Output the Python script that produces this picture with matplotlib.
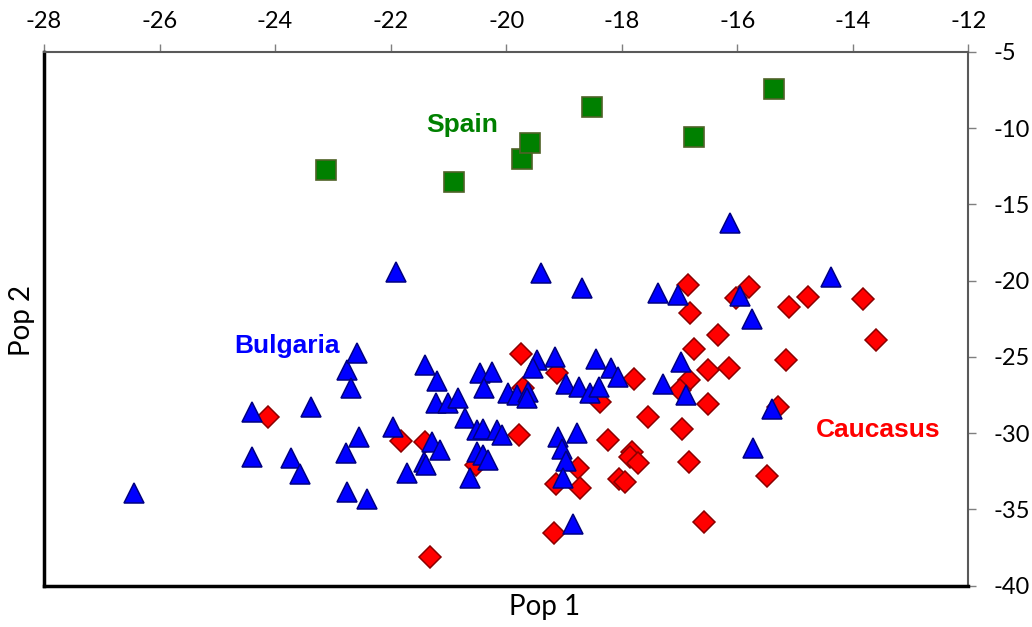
import matplotlib
matplotlib.use("Agg")
import matplotlib.pyplot as plt

plt.rcParams["axes.unicode_minus"] = False

# Spain (green squares)
spain_x = [-23.12, -20.91, -19.72, -19.58, -18.52, -16.75, -15.36]
spain_y = [-12.75, -13.52, -12.05, -11.00, -8.60, -10.57, -7.46]

# Bulgaria (blue triangles)
bulg_x = [-26.45, -24.40, -24.40, -23.73, -23.57, -23.37, -22.76, -22.40, -22.54, -22.78,
          -22.76, -22.69, -22.59, -21.91, -21.96, -21.72, -21.28, -21.15, -21.43, -21.38,
          -21.40, -21.20, -21.21, -21.00, -20.83, -20.71, -20.62, -20.51, -20.40, -20.16,
          -20.07, -20.51, -20.40, -20.31, -20.45, -20.24, -20.38, -19.97, -19.81, -19.62,
          -19.64, -19.46, -19.54, -19.39, -19.15, -18.96, -18.74, -18.55, -18.40, -18.45,
          -18.18, -18.06, -18.68, -19.10, -18.77, -19.04, -18.96, -19.01, -18.84, -17.37,
          -17.03, -17.29, -16.97, -16.88, -16.13, -15.95, -15.75, -14.38, -15.40, -15.73]
bulg_y = [-33.90, -28.60, -31.55, -31.65, -32.68, -28.29, -33.84, -34.34, -30.25, -31.32,
          -25.86, -27.06, -24.78, -19.42, -29.57, -32.61, -30.56, -31.11, -31.87, -32.09,
          -25.53, -26.58, -28.05, -28.03, -27.70, -29.01, -32.94, -29.80, -29.76, -29.80,
          -30.12, -31.24, -31.43, -31.73, -26.08, -25.97, -27.06, -27.37, -27.50, -27.28,
          -27.72, -25.21, -25.75, -19.49, -25.04, -26.81, -26.96, -27.37, -26.96, -25.17,
          -25.73, -26.30, -20.51, -30.23, -30.01, -31.04, -31.83, -32.96, -35.98, -20.82,
          -20.95, -26.81, -25.32, -27.50, -16.25, -21.01, -22.50, -19.75, -28.41, -31.00]

# Caucasus (red diamonds)
cauc_x = [-24.13, -21.82, -21.41, -20.52, -21.32, -19.75, -19.78, -19.12, -19.71, -18.38,
          -17.78, -17.54, -16.95, -16.84, -16.99, -16.74, -16.85, -16.81, -16.50, -16.14,
          -16.33, -16.50, -16.03, -15.79, -15.10, -14.77, -13.83, -13.59, -15.16, -15.29,
          -15.48, -16.57, -16.83, -18.23, -17.83, -17.86, -17.71, -18.04, -17.94, -18.75,
          -19.14, -18.73, -19.18]
cauc_y = [-28.96, -30.52, -30.58, -32.09, -38.10, -24.79, -30.12, -26.09, -27.04, -27.94,
          -26.42, -28.94, -29.75, -26.52, -27.17, -24.49, -20.29, -22.15, -25.88, -25.75,
          -23.59, -28.09, -21.13, -20.42, -21.73, -21.11, -21.21, -23.90, -25.23, -28.32,
          -32.81, -35.84, -31.87, -30.45, -31.22, -31.55, -31.99, -33.01, -33.18, -32.29,
          -33.35, -33.62, -36.57]

group_names = ["Spain", "Bulgaria", "Caucasus"]
label_x = [-20.76, -23.79, -13.56]
label_y = [-9.80, -24.29, -29.80]
label_colors = ["#008000", "#0000FF", "#FF0000"]

x_ticks = list(range(-28, -11, 2))
y_ticks = list(range(-40, -4, 5))

fig = plt.figure(figsize=(10.32, 6.27), dpi=100)
ax = fig.add_axes([0.0426, 0.0659, 0.8957, 0.8516])

ax.plot(cauc_x, cauc_y, linestyle="none", marker="D", markersize=11.2,
        markerfacecolor="#FF0000", markeredgecolor="#8B0000", markeredgewidth=1.1)
ax.plot(bulg_x, bulg_y, linestyle="none", marker="^", markersize=14.5,
        markerfacecolor="#0000FF", markeredgecolor="#000080", markeredgewidth=1.1)
ax.plot(spain_x, spain_y, linestyle="none", marker="s", markersize=14,
        markerfacecolor="#008000", markeredgecolor="#4F6228", markeredgewidth=1.2)

for name, lx, ly, c in zip(group_names, label_x, label_y, label_colors):
    ax.text(lx, ly, name, color=c, fontsize=19, fontweight="bold",
            family="Liberation Sans", ha="center", va="center")

ax.set_xlim(-28, -12)
ax.set_ylim(-40, -5)
ax.set_xticks(x_ticks)
ax.set_yticks(y_ticks)
ax.xaxis.tick_top()
ax.yaxis.tick_right()
ax.tick_params(axis="both", direction="out", length=6, width=1, color="#7F7F7F",
               labelsize=17, labelcolor="black")
ax.tick_params(axis="x", pad=8)
ax.tick_params(axis="y", pad=12)
for lab in ax.get_xticklabels() + ax.get_yticklabels():
    lab.set_family("Lato")

ax.spines["left"].set_color("black")
ax.spines["left"].set_linewidth(2.5)
ax.spines["bottom"].set_color("black")
ax.spines["bottom"].set_linewidth(2.5)
ax.spines["top"].set_color("#595959")
ax.spines["top"].set_linewidth(1.5)
ax.spines["right"].set_color("#595959")
ax.spines["right"].set_linewidth(1.5)

fig.text(545 / 1032, 1 - 607 / 627, "Pop 1", fontsize=20, family="Lato",
         ha="center", va="center")
fig.text(22 / 1032, 1 - 320 / 627, "Pop 2", fontsize=20, family="Lato",
         ha="center", va="center", rotation=90)

fig.savefig("out.png", dpi=100)
